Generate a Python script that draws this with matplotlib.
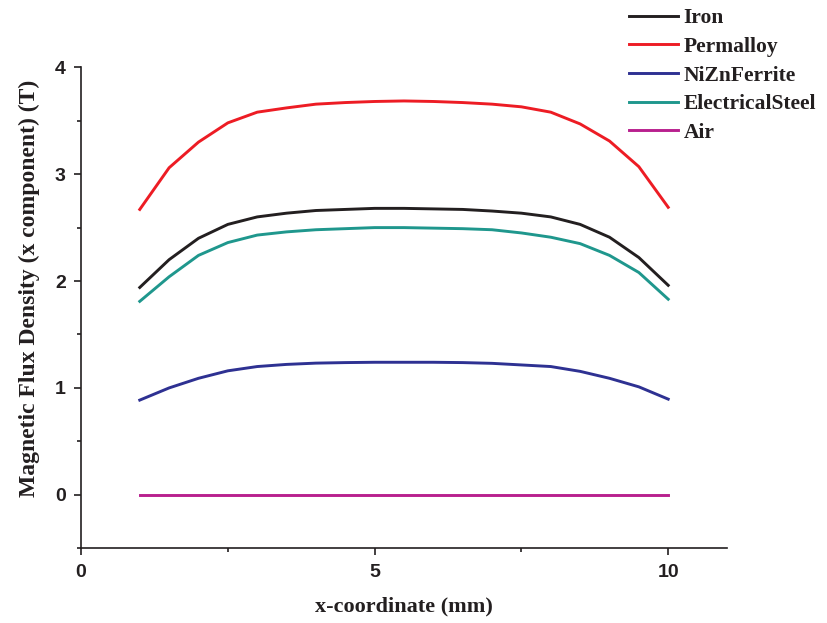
import numpy as np
import matplotlib
matplotlib.use('Agg')
import matplotlib.pyplot as plt
from matplotlib.ticker import MultipleLocator

# Flux density along the sample (x in mm, B_x in T)
x_mm = [1, 1.5, 2, 2.5, 3, 3.5, 4, 4.5, 5, 5.5, 6, 6.5, 7, 7.5, 8, 8.5, 9, 9.5, 10]

iron = [1.94, 2.20, 2.40, 2.53, 2.60, 2.635, 2.66, 2.67, 2.68, 2.68, 2.675,
        2.67, 2.655, 2.635, 2.60, 2.53, 2.41, 2.22, 1.96]
permalloy = [2.67, 3.06, 3.30, 3.48, 3.58, 3.62, 3.655, 3.67, 3.68, 3.685, 3.68,
             3.67, 3.655, 3.63, 3.58, 3.47, 3.31, 3.07, 2.69]
nizn_ferrite = [0.886, 1.00, 1.09, 1.16, 1.20, 1.22, 1.232, 1.237, 1.24, 1.24, 1.24,
                1.237, 1.23, 1.215, 1.20, 1.155, 1.09, 1.01, 0.895]
electrical_steel = [1.81, 2.04, 2.24, 2.36, 2.43, 2.46, 2.48, 2.49, 2.50, 2.50, 2.495,
                    2.49, 2.48, 2.45, 2.41, 2.35, 2.24, 2.08, 1.83]
air = [0.0] * len(x_mm)

series = [
    ('Iron', iron, '#231f20'),
    ('Permalloy', permalloy, '#ed1c24'),
    ('NiZnFerrite', nizn_ferrite, '#2e3192'),
    ('ElectricalSteel', electrical_steel, '#1f978d'),
    ('Air', air, '#b8208e'),
]

fig = plt.figure(figsize=(8.27, 6.23), dpi=100)
ax = fig.add_axes([0.098, 0.120, 0.781, 0.772])

for name, vals, col in series:
    ax.plot(x_mm, vals, color=col, lw=2.1, label=name)

ax.set_xlim(0, 11)
ax.set_ylim(-0.5, 4)
ax.xaxis.set_major_locator(MultipleLocator(5))
ax.xaxis.set_minor_locator(MultipleLocator(2.5))
ax.yaxis.set_major_locator(MultipleLocator(1))
ax.yaxis.set_minor_locator(MultipleLocator(0.5))

for side in ('top', 'right'):
    ax.spines[side].set_visible(False)
for side in ('left', 'bottom'):
    ax.spines[side].set_linewidth(1.2)
    ax.spines[side].set_color('#231f20')

ax.tick_params(which='major', direction='out', length=5, width=1.2, color='#231f20',
               labelsize=14, pad=6)
ax.tick_params(which='minor', direction='out', length=3, width=1.2, color='#231f20')
for lbl in ax.get_xticklabels() + ax.get_yticklabels():
    lbl.set_fontfamily('Liberation Sans')
    lbl.set_fontweight('bold')
    lbl.set_color('#231f20')

ax.set_xlabel('x-coordinate (mm)', family='Liberation Serif', weight='bold',
              size=16, color='#231f20')
ax.set_ylabel('Magnetic Flux Density (x component) (T)', family='Liberation Serif',
              weight='bold', size=17, color='#231f20')
ax.xaxis.set_label_coords(0.5, -0.10)
ax.yaxis.set_label_coords(-0.0635, 0.54)

leg = fig.legend(loc='upper left', bbox_to_anchor=(0.7375, 1.018), frameon=False,
                 handlelength=2.25, handletextpad=0.28, labelspacing=0.4,
                 prop=dict(family='Liberation Serif', weight='bold', size=15.5))
for t in leg.get_texts():
    t.set_color('#231f20')

fig.savefig('out.png', dpi=100)
